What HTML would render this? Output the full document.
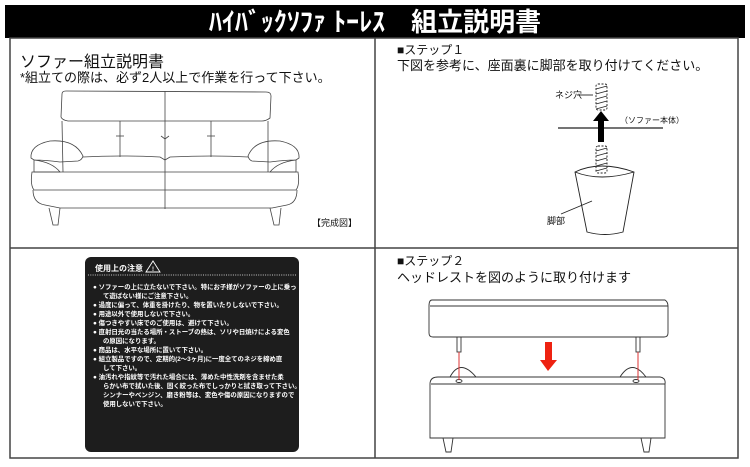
<!DOCTYPE html>
<html><head><meta charset="utf-8"><style>
html,body{margin:0;padding:0;background:#fff;width:750px;height:467px;overflow:hidden}
svg{display:block}
text{font-family:"Liberation Sans","Noto Sans CJK JP",sans-serif}
</style></head><body>
<svg width="750" height="467" viewBox="0 0 750 467" xmlns="http://www.w3.org/2000/svg">
<rect x="5" y="5" width="740" height="33" fill="#000"/>
<text x="375" y="31" font-size="26" font-weight="bold" fill="#fff" text-anchor="middle">ﾊｲﾊﾞｯｸｿﾌｧ ﾄｰﾚｽ　組立説明書</text>
<rect x="10" y="38" width="728" height="420" fill="none" stroke="#444" stroke-width="1.5"/>
<line x1="375" y1="38" x2="375" y2="458" stroke="#444" stroke-width="1.5"/>
<line x1="10" y1="248" x2="738" y2="248" stroke="#444" stroke-width="1.5"/>

<text x="20" y="67" font-size="16" fill="#111">ソファー組立説明書</text>
<text x="20" y="82" font-size="13" fill="#111">*組立ての際は、必ず2人以上で作業を行って下さい。</text>
<text x="397" y="54" font-size="12" fill="#111">■ステップ１</text>
<text x="397" y="70" font-size="13" fill="#111">下図を参考に、座面裏に脚部を取り付けてください。</text>
<text x="397" y="265" font-size="12" fill="#111">■ステップ２</text>
<text x="397" y="282" font-size="13" fill="#111">ヘッドレストを図のように取り付けます</text>

<g fill="none" stroke="#444" stroke-width="0.8">
<path d="M62,94 Q62,91 66,91 L266,92 Q271,92 271,96 L270,118 Q266,121 262,121 L68,121 Q62,120 61,117 Z"/>
<path d="M62,121 L63,172 M268,121 L268,172"/>
<line x1="165" y1="91" x2="165" y2="209"/>
<line x1="120" y1="121" x2="120" y2="157"/><line x1="116" y1="136" x2="124" y2="136"/>
<line x1="211" y1="121" x2="211" y2="157"/><line x1="207" y1="136" x2="215" y2="136"/>
<path d="M161,136 L165,139 L169,136"/>
<path d="M31,158 Q30,145 50,141 Q75,139 83,156 Q82,160 78,161 L60,162 Q45,160 34,160 Z"/>
<path d="M34,160 L34,172 L60,172 Q52,162 34,160"/>
<path d="M299,158 Q300,145 280,141 Q255,139 248,156 Q249,160 252,161 L270,162 Q285,160 296,160 Z"/>
<path d="M296,160 L296,172 L270,172 Q278,162 296,160"/>
<path d="M83,157 Q120,155 160,157 L165,160 L170,157 Q215,155 248,157"/>
<path d="M32,172 Q30,185 34,190 L296,190 Q300,185 298,172 Z"/>
<path d="M33,190 Q33,203 45,205 L60,208 L272,208 L287,205 Q297,203 297,190"/>
<path d="M49,208 L53,225 L58,225 L60,208"/><path d="M270,208 L274,225 L279,225 L281,208"/>
</g>
<text x="312" y="226" font-size="9" fill="#111">【完成図】</text>

<g fill="none" stroke="#222" stroke-width="0.9">
<rect x="596" y="84" width="11" height="26" rx="2" stroke-dasharray="2 1.5"/>
<path d="M596,89 L607,86 M596,94 L607,91 M596,99 L607,96 M596,104 L607,101 M596,109 L607,106"/>
<rect x="596" y="146" width="11" height="27" rx="2" stroke-dasharray="2 1.5"/>
<path d="M596,151 L607,148 M596,156 L607,153 M596,161 L607,158 M596,166 L607,163 M596,171 L607,168"/>
<line x1="558" y1="128" x2="663" y2="128" stroke-width="1.2"/>
<path d="M575,172 Q600,160 634,172 L623,232 Q605,237 587,232 Z"/>
<path d="M575,172 Q600,182 634,172"/>
<line x1="561" y1="214" x2="592" y2="201"/>
<line x1="577" y1="95" x2="593" y2="95"/>
</g>
<path d="M601,111 L609,121 L604,121 L604,142 L598,142 L598,121 L593,121 Z" fill="#000"/>
<text x="555" y="98" font-size="9" fill="#111">ネジ穴</text>
<text x="620" y="123" font-size="8" fill="#111">（ソファー本体）</text>
<text x="547" y="224" font-size="9" fill="#111">脚部</text>

<g fill="none" stroke="#333" stroke-width="0.9">
<path d="M432,300 L665,300 Q668,302 668,306 L668,333 Q668,337 664,337 L433,337 Q429,337 429,333 L429,306 Q429,300 432,300"/>
<line x1="430" y1="306" x2="668" y2="306"/>
<rect x="457" y="337" width="4" height="15"/>
<rect x="636" y="337" width="4" height="15"/>
<path d="M450,377 Q460,358 476,377"/>
<path d="M620,377 Q632,358 646,377"/>
<path d="M430,384 Q430,377 438,377 L660,377 Q666,378 665,384 L665,438 L430,438 Z"/>
<line x1="431" y1="384" x2="665" y2="384"/>
<ellipse cx="459" cy="381" rx="3" ry="1.5"/>
<ellipse cx="636" cy="381" rx="3" ry="1.5"/>
<path d="M443,438 L446,452 L451,452 L453,438"/>
<path d="M641,438 L644,452 L649,452 L651,438"/>
</g>
<line x1="459" y1="352" x2="459" y2="380" stroke="#d33" stroke-width="1"/>
<line x1="638" y1="352" x2="638" y2="380" stroke="#d33" stroke-width="1"/>
<path d="M545,342 L552,342 L552,360 L557,360 L548,371 L540,360 L545,360 Z" fill="#e21"/>

<rect x="85" y="257" width="214" height="195" rx="6" fill="#1d1d1d"/>
<g fill="#fff" font-size="6.4" font-weight="bold">
<text x="95" y="271" font-size="8">使用上の注意</text>
<path d="M146,272 L153,261 L160,272 Z" fill="none" stroke="#fff" stroke-width="0.9"/>
<text x="152" y="271" font-size="6">!</text>
<line x1="88" y1="275" x2="297" y2="275" stroke="#fff" stroke-width="0.8" stroke-dasharray="1 1.3"/>
<text x="93" y="289">● ソファーの上に立たないで下さい。特にお子様がソファーの上に乗っ</text>
<text x="103" y="298">て遊ばない様にご注意下さい。</text>
<text x="93" y="307">● 過度に偏って、体重を掛けたり、物を置いたりしないで下さい。</text>
<text x="93" y="316">● 用途以外で使用しないで下さい。</text>
<text x="93" y="325">● 傷つきやすい床でのご使用は、避けて下さい。</text>
<text x="93" y="334">● 直射日光の当たる場所・ストーブの熱は、ソリや日焼けによる変色</text>
<text x="103" y="343">の原因になります。</text>
<text x="93" y="352">● 商品は、水平な場所に置いて下さい。</text>
<text x="93" y="361">● 組立製品ですので、定期的(2〜3ヶ月)に一度全てのネジを締め直</text>
<text x="103" y="370">して下さい。</text>
<text x="93" y="379">● 油汚れや指紋等で汚れた場合には、薄めた中性洗剤を含ませた柔</text>
<text x="103" y="388">らかい布で拭いた後、固く絞った布でしっかりと拭き取って下さい。</text>
<text x="103" y="397">シンナーやベンジン、磨き粉等は、変色や傷の原因になりますので</text>
<text x="103" y="406">使用しないで下さい。</text>
</g>
</svg>
</body></html>
